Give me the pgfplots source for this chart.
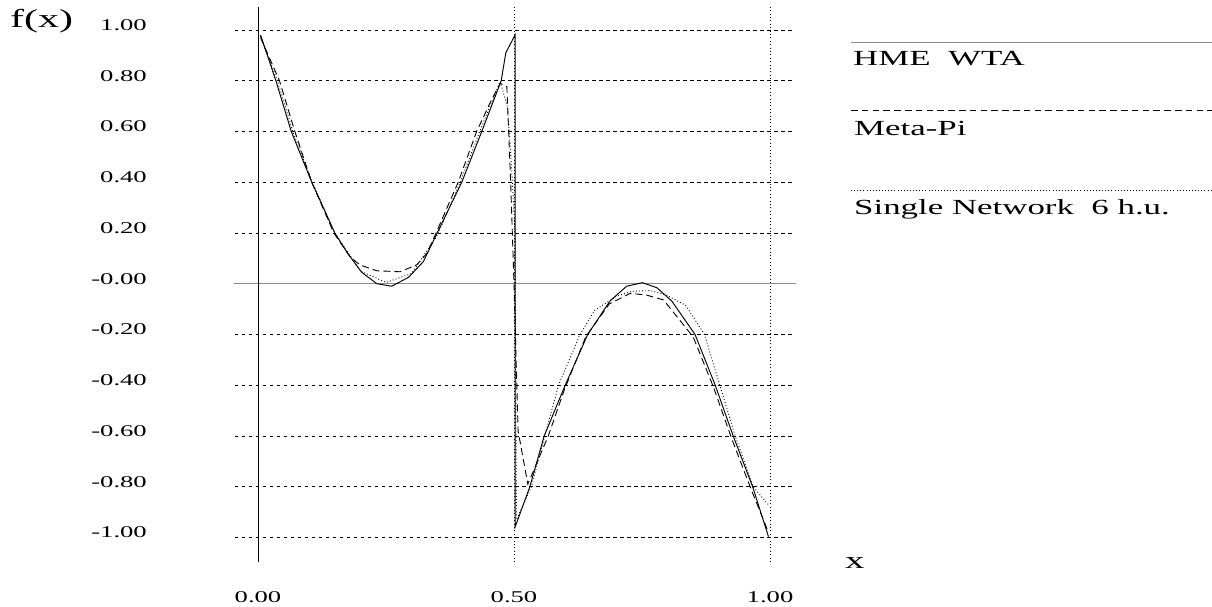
\documentclass[border=0pt]{standalone}
\usepackage{fontspec}
\setmainfont{Liberation Serif}[FakeStretch=1.62]
\usepackage{pgfplots}
\pgfplotsset{compat=1.18}
\definecolor{zl}{gray}{0.55}
\begin{document}
\begin{tikzpicture}
\useasboundingbox (-235bp,-45bp) rectangle (977bp,562bp);
\begin{axis}[
  scale only axis, width=558bp, height=555bp,
  xmin=-0.0449, xmax=1.0449, ymin=-1.097, ymax=1.0906,
  axis line style={draw=none}, major tick length=0pt,
  xtick={0,0.5,1}, xticklabels={0.00,0.50,1.00},
  ytick={-1,-0.8,-0.6,-0.4,-0.2,0,0.2,0.4,0.6,0.8,1},
  yticklabels={-1.00,-0.80,-0.60,-0.40,-0.20,-0.00,0.20,0.40,0.60,0.80,1.00},
  xmajorgrids, ymajorgrids,
  x grid style={black, line width=0.6bp, dash pattern=on 1bp off 2.4bp},
  y grid style={black, line width=0.6bp, dash pattern=on 3.5bp off 3.5bp},
  clip=false,
  tick label style={font=\fontsize{16.5}{17}\selectfont},
  xticklabel style={anchor=north, inner sep=0pt, yshift=-29.5bp},
  yticklabel style={anchor=east, inner sep=0pt, xshift=-88bp, yshift=5bp},
]
\draw[zl, line width=1.4bp] (axis cs:-0.047,0) -- (axis cs:1.051,0);
\draw[black, line width=0.95bp] (axis cs:0,-1.097) -- (axis cs:0,1.0906);
% HME WTA
\addplot[black, line width=0.95bp] coordinates {
(0.005,0.98) (0.035,0.80) (0.065,0.60) (0.105,0.40) (0.150,0.20) (0.175,0.12)
(0.2025,0.045) (0.232,0.0) (0.261,-0.01) (0.294,0.025) (0.323,0.087) (0.35,0.20)
(0.398,0.40) (0.437,0.60) (0.475,0.80) (0.484,0.91) (0.502,0.98)
(0.502,-0.96) (0.531,-0.80) (0.559,-0.60) (0.600,-0.40) (0.644,-0.20)
(0.6875,-0.068) (0.72,-0.01) (0.751,0.004) (0.779,-0.016) (0.808,-0.068)
(0.8535,-0.20) (0.893,-0.40) (0.928,-0.60) (0.966,-0.80) (0.997,-0.997)
};
% Meta-Pi
\addplot[black, line width=0.9bp, dash pattern=on 7bp off 4bp] coordinates {
(0.005,0.97) (0.042,0.80) (0.072,0.60) (0.105,0.40) (0.148,0.20) (0.18,0.106)
(0.199,0.074) (0.232,0.051) (0.277,0.047) (0.31,0.074) (0.33,0.12) (0.35,0.21)
(0.391,0.40) (0.427,0.60) (0.455,0.72) (0.473,0.79) (0.486,0.777) (0.4935,0.40)
(0.50,0.0) (0.508,-0.58) (0.527,-0.79) (0.567,-0.60) (0.598,-0.42) (0.64,-0.21)
(0.686,-0.08) (0.727,-0.038) (0.759,-0.045) (0.792,-0.064) (0.85,-0.21)
(0.89,-0.41) (0.925,-0.61) (0.963,-0.81) (0.997,-0.98)
};
% Single network
\addplot[black, line width=0.9bp, dash pattern=on 0.9bp off 2.2bp] coordinates {
(0.005,0.975) (0.038,0.80) (0.068,0.60) (0.106,0.40) (0.15,0.20) (0.20,0.05)
(0.25,0.005) (0.30,0.04) (0.35,0.19) (0.395,0.40) (0.433,0.60) (0.473,0.797)
(0.487,0.698) (0.492,0.566) (0.497,0.396) (0.502,0.199) (0.503,-0.3)
(0.505,-0.93) (0.534,-0.80) (0.56,-0.60) (0.587,-0.40) (0.629,-0.20)
(0.658,-0.104) (0.70,-0.05) (0.73,-0.03) (0.766,-0.027) (0.798,-0.045)
(0.835,-0.085) (0.872,-0.20) (0.902,-0.40) (0.932,-0.60) (0.967,-0.80) (0.997,-0.872)
};
\end{axis}
\node[anchor=base west, inner sep=0pt, font=\fontsize{26}{26}\selectfont] at (-225bp,534bp) {f(x)};
\node[anchor=base west, inner sep=0pt, font=\fontsize{24}{24}\selectfont] at (610bp,-6bp) {x};
% legend
\draw[zl, line width=1.2bp] (616bp,519.3bp) -- (977bp,519.3bp);
\node[anchor=base west, inner sep=0pt, font=\fontsize{21.6}{22}\selectfont] at (618bp,496bp) {HME\ \ WTA};
\draw[black, line width=0.8bp, dash pattern=on 6.5bp off 4.3bp] (616bp,452bp) -- (977bp,452bp);
\node[anchor=base west, inner sep=0pt, font=\fontsize{21.6}{22}\selectfont] at (619bp,426bp) {Meta-Pi};
\draw[black, line width=0.8bp, dash pattern=on 0.9bp off 2.2bp] (616bp,371.3bp) -- (977bp,371.3bp);
\node[anchor=base west, inner sep=0pt, font=\fontsize{21.6}{22}\selectfont] at (619bp,347bp) {Single Network\ \ 6 h.u.};
\end{tikzpicture}
\end{document}
